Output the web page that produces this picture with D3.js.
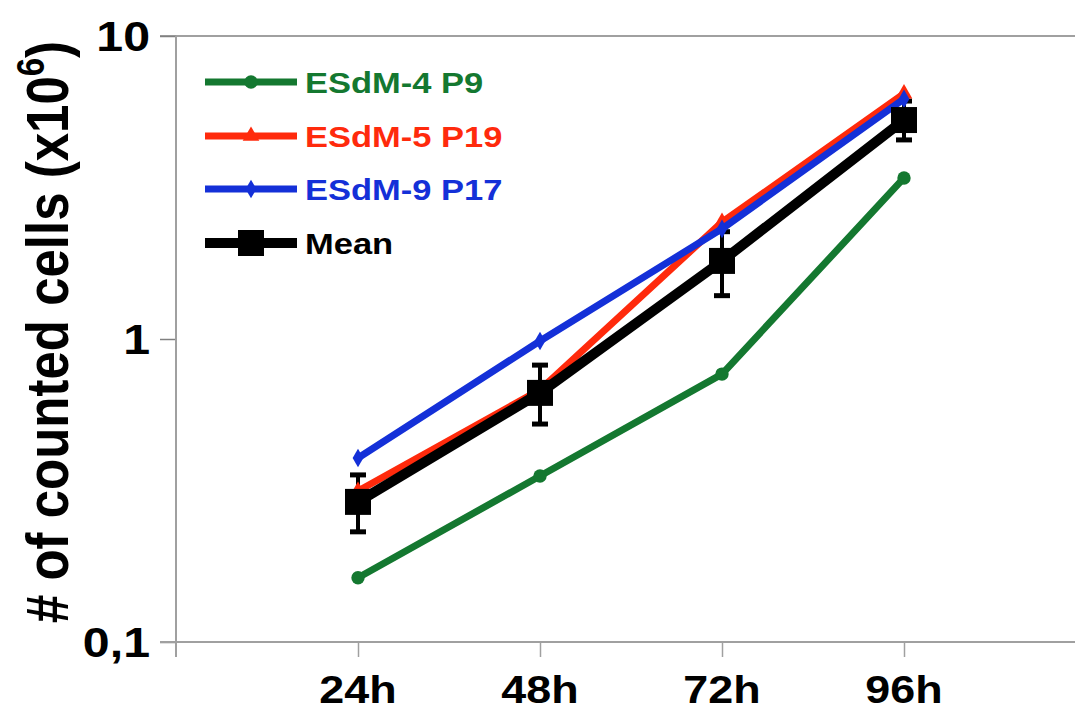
<!DOCTYPE html>
<html>
<head>
<meta charset="utf-8">
<script src="https://cdn.jsdelivr.net/npm/d3@7"></script>
<style>
    body { margin: 0; background: #fff; }
    svg { display: block; font-family: "Liberation Sans", Arial, sans-serif; font-weight: bold; }
</style>
</head>
<body>
<svg id="chart" width="1075" height="711"></svg>
<script>

// data
const categories = ['24h', '48h', '72h', '96h'];

const esdm4 = [0.163, 0.353, 0.766, 3.40];
const esdm5 = [0.315, 0.68, 2.43, 6.45];
const esdm9 = [0.405, 0.985, 2.31, 6.2];
const mean_vals = [0.29, 0.664, 1.81, 5.28];
const mean_err_lo = [0.231, 0.524, 1.39, 4.54];
const mean_err_hi = [0.356, 0.82, 2.26, 6.1];

const y_ticks = [0.1, 1, 10];
const y_tick_labels = ['0,1', '1', '10'];

const series_names = ['ESdM-4 P9', 'ESdM-5 P19', 'ESdM-9 P17', 'Mean'];

const svg = d3.select('#chart');

const plot_left = 176, plot_top = 36, plot_bottom = 642;
const step = 182;
const sx = 1.15; // text looks stretched horizontally in the original

let x = d3.scalePoint()
    .domain(categories)
    .range([plot_left + step, plot_left + step * categories.length]);

let y = d3.scaleLog()
    .domain([0.1, 10])
    .range([plot_bottom, plot_top]);

// top frame line
svg.append('line')
    .attr('x1', plot_left - 16).attr('x2', 1075)
    .attr('y1', y(10)).attr('y2', y(10))
    .style('stroke', '#808080').style('stroke-width', 1.5);

// y axis
let yAxis = d3.axisLeft(y).tickValues(y_ticks).tickSize(16).tickFormat('');
let gy = svg.append('g').attr('transform', 'translate(' + plot_left + ',0)').call(yAxis);
gy.select('.domain').remove();
gy.selectAll('.tick line').style('stroke', '#808080').style('stroke-width', 1.5);
svg.append('line')
    .attr('x1', plot_left).attr('x2', plot_left)
    .attr('y1', plot_top).attr('y2', plot_bottom + 15)
    .style('stroke', '#a0a0a0').style('stroke-width', 2);

y_ticks.forEach((t, i) => {
    svg.append('text')
        .attr('transform', 'translate(' + (plot_left - 26) + ',' + (y(t) + 15) + ') scale(' + sx + ',1)')
        .attr('text-anchor', 'end')
        .style('font-size', '42px')
        .text(y_tick_labels[i]);
});

// x axis
let xAxis = d3.axisBottom(x).tickSize(15).tickFormat('');
let gx = svg.append('g').attr('transform', 'translate(0,' + plot_bottom + ')').call(xAxis);
gx.select('.domain').remove();
gx.selectAll('.tick line').style('stroke', '#a0a0a0').style('stroke-width', 1.5);
svg.append('line')
    .attr('x1', plot_left - 16).attr('x2', 1075)
    .attr('y1', plot_bottom).attr('y2', plot_bottom)
    .style('stroke', '#a0a0a0').style('stroke-width', 2);

categories.forEach(c => {
    svg.append('text')
        .attr('transform', 'translate(' + x(c) + ',703) scale(' + sx + ',1)')
        .attr('text-anchor', 'middle')
        .style('font-size', '39px')
        .text(c);
});

// y title
let ttl = svg.append('text')
    .attr('transform', 'translate(68,332) rotate(-90) scale(1,' + sx + ')')
    .attr('text-anchor', 'middle')
    .style('font-size', '51px');
ttl.append('tspan').text('# of counted cells (x10');
ttl.append('tspan').attr('dy', -21).style('font-size', '33px').text('6');
ttl.append('tspan').attr('dy', 21).text(')');

// lines
let line = d3.line()
    .x((d, i) => x(categories[i]))
    .y(d => y(d));

const series = [
    { name: series_names[0], values: esdm4, color: '#147830', width: 7, marker: 'circle' },
    { name: series_names[1], values: esdm5, color: '#ff2a0c', width: 7, marker: 'triangle' },
    { name: series_names[2], values: esdm9, color: '#1430d8', width: 7, marker: 'diamond' },
    { name: series_names[3], values: mean_vals, color: '#000', width: 10, marker: 'square' }
];

function markerPath(type) {
    if (type == 'circle') return d3.symbol(d3.symbolCircle, 140)();
    if (type == 'triangle') return d3.symbol(d3.symbolTriangle, 120)();
    if (type == 'diamond') return d3.symbol(d3.symbolDiamond, 100)();
    return d3.symbol(d3.symbolSquare, 676)();
}

// error bars of mean, drawn under the mean line
let eb = svg.append('g');
categories.forEach((c, i) => {
    let cx = x(c);
    eb.append('line')
        .attr('x1', cx).attr('x2', cx)
        .attr('y1', y(mean_err_lo[i])).attr('y2', y(mean_err_hi[i]))
        .style('stroke', '#000').style('stroke-width', 4);
    [mean_err_lo[i], mean_err_hi[i]].forEach(v => {
        eb.append('line')
            .attr('x1', cx - 8).attr('x2', cx + 8)
            .attr('y1', y(v)).attr('y2', y(v))
            .style('stroke', '#000').style('stroke-width', 5);
    });
});

series.forEach(s => {
    svg.append('path')
        .datum(s.values)
        .attr('d', line)
        .style('fill', 'none')
        .style('stroke', s.color)
        .style('stroke-width', s.width)
        .style('stroke-linejoin', 'round')
        .style('stroke-linecap', 'round');
    svg.selectAll(null)
        .data(s.values)
        .enter().append('path')
            .attr('d', markerPath(s.marker))
            .attr('transform', (d, i) => 'translate(' + x(categories[i]) + ',' + y(d) + ')')
            .style('fill', s.color);
});

// legend
const legend_y = [82, 136, 189, 243];
series.forEach((s, i) => {
    let g = svg.append('g').attr('transform', 'translate(0,' + legend_y[i] + ')');
    g.append('line')
        .attr('x1', 205).attr('x2', 297)
        .style('stroke', s.color)
        .style('stroke-width', s.width);
    g.append('path')
        .attr('d', markerPath(s.marker))
        .attr('transform', 'translate(251,0)')
        .style('fill', s.color);
    g.append('text')
        .attr('transform', 'translate(305,11) scale(' + sx + ',1)')
        .style('font-size', '30px')
        .style('fill', s.color)
        .text(s.name);
});

</script>
</body>
</html>
